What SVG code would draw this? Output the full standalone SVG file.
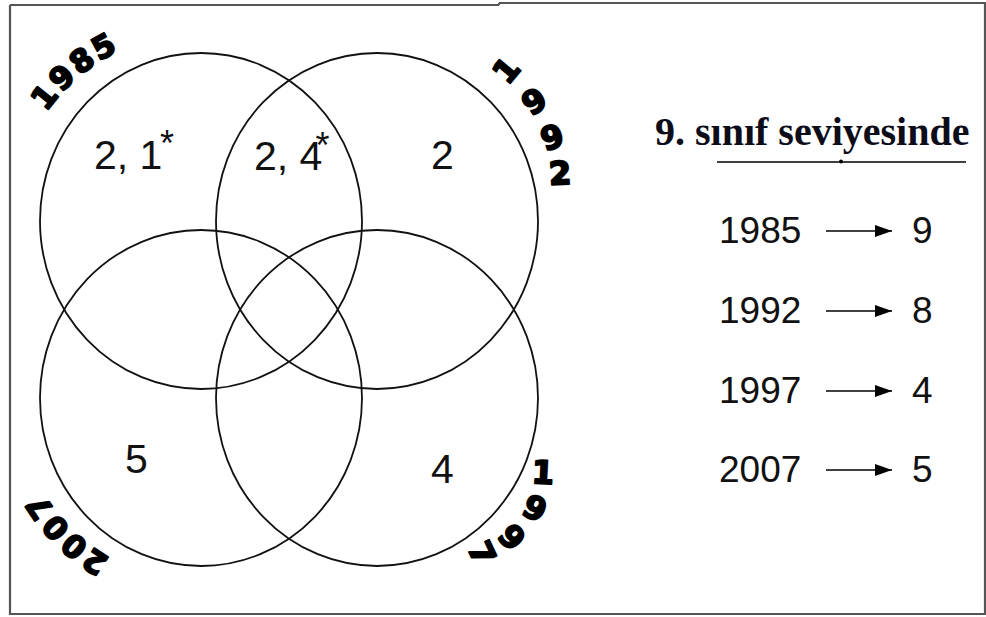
<svg xmlns="http://www.w3.org/2000/svg" width="986" height="617" viewBox="0 0 986 617">
<style>
.circ{fill:none;stroke:#111;stroke-width:1.8}
.num{font-family:"Liberation Sans",Arial,sans-serif;font-size:41px;fill:#111}
.ast{font-family:"Liberation Sans",Arial,sans-serif;font-size:36px;fill:#111}
.yr{font-family:"DejaVu Sans",sans-serif;font-weight:bold;font-size:31px;fill:#000;stroke:#000;stroke-width:2;stroke-linejoin:round;letter-spacing:3px}
.gl{font-family:"DejaVu Sans",sans-serif;font-weight:bold;font-size:32px;fill:#000;stroke:#000;stroke-width:2;stroke-linejoin:round}
.lst{font-family:"Liberation Sans",Arial,sans-serif;font-size:37px;fill:#111}
.ttl{font-family:"Liberation Serif","Times New Roman",serif;font-weight:bold;font-size:40px;fill:#0d0d1a}
.arr{stroke:#000;stroke-width:1.6;fill:none}
.frame{stroke:#555;stroke-width:2.2;fill:none}
</style>
<defs>
<marker id="ah" markerUnits="userSpaceOnUse" markerWidth="18" markerHeight="13" refX="17" refY="6.5" orient="auto">
<path d="M0,0.5 L17,6.5 L0,12.5 z" fill="#000"/>
</marker>
<path id="p1985" d="M12,221 A189,189 0 0 1 390,221"/>
<path id="p2007" d="M201,582 A184,184 0 0 1 17,398"/>
</defs>
<rect width="986" height="617" fill="#fff"/>
<g id="frame">
<path class="frame" d="M10,5 V614 H985 V3 H499 M499,5 H10"/>
<line x1="499" y1="3" x2="499" y2="5" stroke="#555" stroke-width="2"/>
</g>
<g id="set-1985">
<ellipse class="circ" cx="201" cy="221" rx="161" ry="168"/>
<text class="yr"><textPath href="#p1985" startOffset="165" text-anchor="middle">1985</textPath></text>
</g>
<g id="set-1992">
<ellipse class="circ" cx="377" cy="221" rx="161" ry="168"/>
<g class="gl" text-anchor="middle">
<text transform="translate(506,70) rotate(-50)" y="11.5">1</text>
<text transform="translate(534,101) rotate(-33)" y="11.5">9</text>
<text transform="translate(552,137) rotate(-17)" y="11.5">9</text>
<text transform="translate(560,173) rotate(-3)" y="11.5">2</text>
</g>
</g>
<g id="set-2007">
<ellipse class="circ" cx="201" cy="398" rx="161" ry="168"/>
<text class="yr"><textPath href="#p2007" startOffset="144" text-anchor="middle">2007</textPath></text>
</g>
<g id="set-1997">
<ellipse class="circ" cx="377" cy="398" rx="161" ry="168"/>
<g class="gl" text-anchor="middle">
<text transform="translate(543,472) rotate(3)" y="11.5">1</text>
<text transform="translate(535,508) rotate(25)" y="11.5">9</text>
<text transform="translate(512,537) rotate(48)" y="11.5">9</text>
<text transform="translate(482,553) rotate(65)" y="11.5">7</text>
</g>
</g>
<g id="region-labels">
<text class="num" x="94" y="169">2, 1</text>
<text class="ast" x="160" y="156">*</text>
<text class="num" x="254" y="170">2, 4</text>
<text class="ast" x="315.5" y="158">*</text>
<text class="num" x="431" y="169">2</text>
<text class="num" x="125" y="473">5</text>
<text class="num" x="431" y="483">4</text>
</g>
<g id="title">
<text class="ttl" x="655" y="145">9. sınıf seviyesinde</text>
<line x1="717" y1="162" x2="966" y2="162" stroke="#000" stroke-width="1.6"/>
<circle cx="841" cy="161.5" r="2" fill="#000"/>
</g>
<g id="list">
<g id="row-1985"><text class="lst" x="719" y="243">1985</text><text class="lst" x="912" y="243">9</text></g>
<g id="row-1992"><text class="lst" x="719" y="323">1992</text><text class="lst" x="912" y="323">8</text></g>
<g id="row-1997"><text class="lst" x="719" y="403">1997</text><text class="lst" x="912" y="403">4</text></g>
<g id="row-2007"><text class="lst" x="719" y="482">2007</text><text class="lst" x="912" y="482">5</text></g>
</g>
<g id="connectors">
<line class="arr" x1="826" y1="231" x2="892" y2="231" marker-end="url(#ah)"/>
<line class="arr" x1="826" y1="311" x2="892" y2="311" marker-end="url(#ah)"/>
<line class="arr" x1="826" y1="391" x2="892" y2="391" marker-end="url(#ah)"/>
<line class="arr" x1="826" y1="470" x2="892" y2="470" marker-end="url(#ah)"/>
</g>
</svg>
